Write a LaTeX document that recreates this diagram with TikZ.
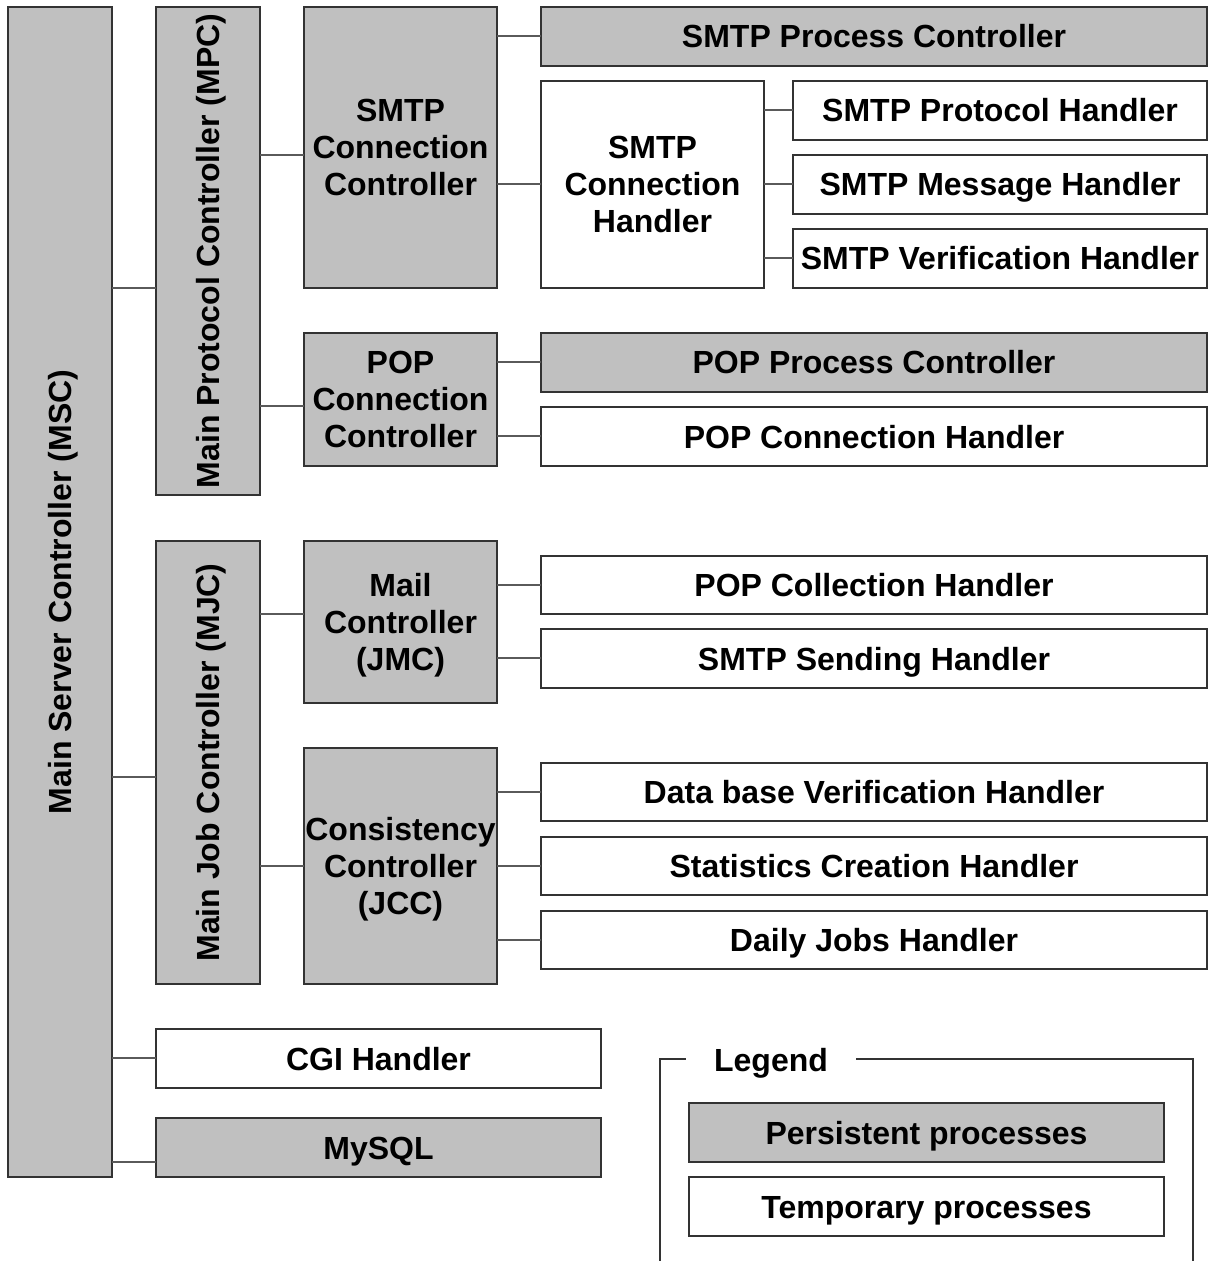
\documentclass[tikz,border=0pt]{standalone}
\usepackage{fontspec}
\setmainfont{Liberation Sans}
\definecolor{procgray}{HTML}{C0C0C0}
\definecolor{edgegray}{HTML}{333333}
\definecolor{linkgray}{HTML}{5A5A5A}
% box from corner (x1,y1) to (x2,y2), in pixel-like units
\newcommand\pbox[7]{%
  \node[#1, minimum width={(#5-#3)*0.5pt}, minimum height={(#6-#4)*0.5pt}]
    (#2) at ({(#3+#5)/2},{(#4+#6)/2}) {#7};}
% horizontal connector at height y between two boxes
\newcommand\hlink[3]{\draw[conn] (#1.east |- 0,#3) -- (#2.west |- 0,#3);}
% last line of a stacked label without its descender depth
\newcommand\nodepth[1]{\raisebox{0pt}[\height][0pt]{#1}}
\begin{document}
\begin{tikzpicture}[x=0.5pt,y=-0.5pt,
  lbl/.style={font=\bfseries\fontsize{16}{18.5}\selectfont},
  oneline/.style={text height=14.4pt, text depth=2.9pt},
  box/.style={lbl, draw=edgegray, line width=0.7pt, inner sep=0pt, outer sep=0pt,
    align=center},
  persist/.style={box, fill=procgray},
  temp/.style={box, fill=white},
  vlabel/.style={lbl, oneline, rotate=90, inner sep=0pt},
  conn/.style={draw=linkgray, line width=0.7pt}]
\useasboundingbox (0,0) rectangle (1208,1261);

% main controllers
\pbox{persist}{msc}{8}{7}{112}{1177}{}
\node[vlabel] (msclabel) at (msc.center) {Main Server Controller (MSC)};
\pbox{persist}{mpc}{156}{7}{260}{495}{}
\node[vlabel] (mpclabel) at (mpc.center) {Main Protocol Controller (MPC)};
\pbox{persist}{mjc}{156}{541}{260}{984}{}
\node[vlabel] (mjclabel) at (mjc.center) {Main Job Controller (MJC)};

% SMTP branch
\pbox{persist}{smtpcc}{304}{7}{497}{288}{SMTP\\Connection\\Controller}
\pbox{persist,oneline}{smtppc}{541}{7}{1207}{66}{SMTP Process Controller}
\pbox{temp}{smtpch}{541}{81}{764}{288}{SMTP\\Connection\\Handler}
\pbox{temp,oneline}{smtpph}{793}{81}{1207}{140}{SMTP Protocol Handler}
\pbox{temp,oneline}{smtpmh}{793}{155}{1207}{214}{SMTP Message Handler}
\pbox{temp,oneline}{smtpvh}{793}{229}{1207}{288}{SMTP Verification Handler}

% POP branch
\pbox{persist}{popcc}{304}{333}{497}{466}{POP\\Connection\\Controller}
\pbox{persist,oneline}{poppc}{541}{333}{1207}{392}{POP Process Controller}
\pbox{temp,oneline}{popch}{541}{407}{1207}{466}{POP Connection Handler}

% job branch
\pbox{persist}{jmc}{304}{541}{497}{703}{Mail\\Controller\\\nodepth{(JMC)}}
\pbox{temp,oneline}{popcol}{541}{556}{1207}{614}{POP Collection Handler}
\pbox{temp,oneline}{smtpsend}{541}{629}{1207}{688}{SMTP Sending Handler}
\pbox{persist}{jcc}{304}{748}{497}{984}{Consistency\\Controller\\\nodepth{(JCC)}}
\pbox{temp,oneline}{dbver}{541}{763}{1207}{821}{Data base Verification Handler}
\pbox{temp,oneline}{stats}{541}{837}{1207}{895}{Statistics Creation Handler}
\pbox{temp,oneline}{daily}{541}{911}{1207}{969}{Daily Jobs Handler}

% other services
\pbox{temp,oneline}{cgi}{156}{1029}{601}{1088}{CGI Handler}
\pbox{persist,oneline}{mysql}{156}{1118}{601}{1177}{MySQL}

% connectors
\hlink{msc}{mpc}{288}
\hlink{msc}{mjc}{777}
\hlink{msc}{cgi}{1058}
\hlink{msc}{mysql}{1162}
\hlink{mpc}{smtpcc}{155}
\hlink{mpc}{popcc}{406}
\hlink{mjc}{jmc}{614}
\hlink{mjc}{jcc}{866}
\hlink{smtpcc}{smtppc}{36}
\hlink{smtpcc}{smtpch}{184}
\hlink{smtpch}{smtpph}{110}
\hlink{smtpch}{smtpmh}{184}
\hlink{smtpch}{smtpvh}{258}
\hlink{popcc}{poppc}{362}
\hlink{popcc}{popch}{436}
\hlink{jmc}{popcol}{585}
\hlink{jmc}{smtpsend}{658}
\hlink{jcc}{dbver}{792}
\hlink{jcc}{stats}{866}
\hlink{jcc}{daily}{940}

% legend frame, open below the page edge
\begin{scope}
  \clip (0,0) rectangle (1208,1261);
  \draw[draw=edgegray, line width=0.7pt] (660,1059) rectangle (1193,1290);
\end{scope}
\node[lbl, oneline, fill=white, inner xsep=14pt, inner ysep=2pt]
  (legendtitle) at (771,1060) {Legend};
\pbox{persist,oneline}{legpersist}{689}{1103}{1164}{1162}{Persistent processes}
\pbox{temp,oneline}{legtemp}{689}{1177}{1164}{1236}{Temporary processes}
\end{tikzpicture}
\end{document}
